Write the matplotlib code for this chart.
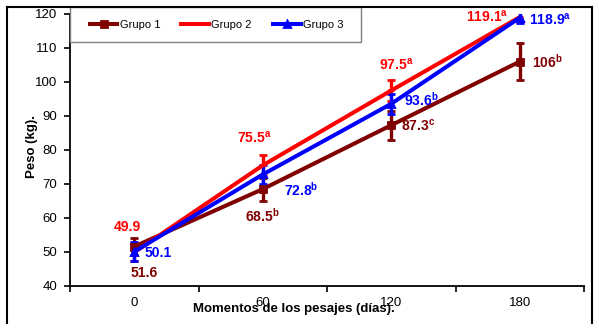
import numpy as np
import matplotlib.pyplot as plt
from matplotlib.lines import Line2D
from matplotlib.patches import Rectangle

plt.rcParams['font.family'] = ['Liberation Sans', 'DejaVu Sans']
plt.rcParams['mathtext.fontset'] = 'custom'
plt.rcParams['mathtext.bf'] = 'Liberation Sans:bold'
plt.rcParams['mathtext.rm'] = 'Liberation Sans'

dias = ['0', '60', '120', '180']
grupo1 = [51.6, 68.5, 87.3, 106.0]
grupo2 = [49.9, 75.5, 97.5, 119.1]
grupo3 = [50.1, 72.8, 93.6, 118.9]
err1 = [2.5, 3.4, 4.3, 5.4]
err2 = [2.6, 3.0, 3.1, 1.5]
err3 = [2.8, 2.8, 2.9, 1.6]
letras1 = ['', 'b', 'c', 'b']
letras2 = ['', 'a', 'a', 'a']
letras3 = ['', 'b', 'b', 'a']

c1, c2, c3 = '#800000', '#ff0000', '#0000ff'

fig = plt.figure(figsize=(5.99, 3.31), dpi=100)
ax = fig.add_axes([70/599, 1-286/331, (584-70)/599, (286-14)/331])

x = np.arange(len(dias))
series = [(grupo1, err1, c1, 's', 'Grupo 1'),
          (grupo2, err2, c2, '_', 'Grupo 2'),
          (grupo3, err3, c3, '^', 'Grupo 3')]
for y, e, c, m, lab in series:
    ax.errorbar(x, y, yerr=e, color=c, lw=2.9, marker=m, ms=4.5, mew=2,
                elinewidth=2.4, capsize=3.2, capthick=2.4)

ax.set_xlim(-0.5, 3.5)
ax.set_ylim(40, 120)
ax.set_yticks(range(40, 121, 10))
ax.set_xticks(x)
ax.set_xticklabels(dias)
ax.set_xticks(np.arange(-0.5, 4, 1), minor=True)
ax.tick_params(axis='x', which='major', length=0, pad=8, labelsize=9.5)
ax.tick_params(axis='x', which='minor', length=4, width=1.2)
ax.tick_params(axis='y', length=4, width=1.2, labelsize=9.5, pad=5)
for s in ['top', 'right']:
    ax.spines[s].set_visible(False)
for s in ['left', 'bottom']:
    ax.spines[s].set_linewidth(1.3)

ax.set_xlabel('Momentos de los pesajes (días).', fontsize=9.5, fontweight='bold')
ax.xaxis.set_label_coords((294-70)/514, -(303-286)/272)
ax.set_ylabel('Peso (kg).', fontsize=9.5, fontweight='bold')
ax.yaxis.set_label_coords(-(70-38)/514, (286-146)/272)


def etiqueta(v, letra):
    txt = f'{v:g}'
    if letra:
        txt += r'$^{\mathbf{' + letra + '}}$'
    return txt


# value labels placed around each point (offsets in points)
offs1 = [(7, -19), (0, -19), (19, 0), (20, 0)]
offs2 = [(-5, 18), (-6, 20), (4, 19), (-8, 0)]
offs3 = [(17, -1), (28, -11), (22, 3), (22, -1)]
for vals, letras, offs, c in [(grupo1, letras1, offs1, c1),
                              (grupo2, letras2, offs2, c2),
                              (grupo3, letras3, offs3, c3)]:
    for i, v in enumerate(vals):
        dx, dy = offs[i]
        ha = 'right' if (c == c2 and i == 3) else 'center'
        ax.annotate(etiqueta(v, letras[i]), (x[i], v), xytext=(dx, dy),
                    textcoords='offset points', ha=ha, va='center',
                    color=c, fontsize=10, fontweight='bold')

# legend: plain line + marker handles inside a square grey box
handles = [Line2D([], [], color=c, lw=2.9, marker=m, ms=4.5, mew=2, label=lab)
           for _, _, c, m, lab in series]
fig.add_artist(Rectangle((70/599, 1-42/331), (361-70)/599, 35/331,
                         transform=fig.transFigure, fill=False,
                         edgecolor='#808080', lw=1))
fig.legend(handles=handles, loc='center', ncol=3, frameon=False,
           bbox_to_anchor=((70+361)/2/599 + 1/599, 1-24.5/331),
           fontsize=8, handlelength=2.5, handletextpad=0.2,
           columnspacing=1.9, borderaxespad=0)

# outer frame, open at the bottom
for xs, ys in [([7, 7], [7, 323]), ([7, 592], [7, 7]), ([592, 592], [7, 323])]:
    fig.add_artist(Line2D([v/599 for v in xs], [1-v/331 for v in ys],
                          color='black', lw=1.5, transform=fig.transFigure))

fig.savefig('out.png', dpi=100)
